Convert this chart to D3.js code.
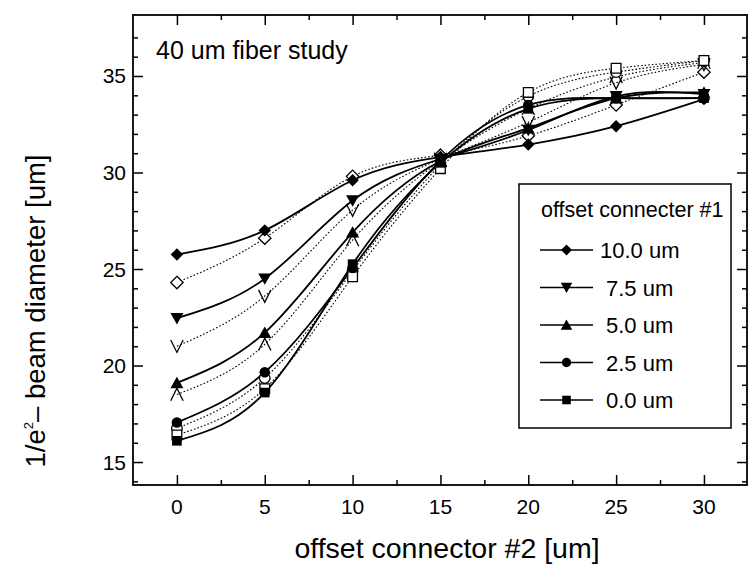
<!DOCTYPE html>
<html>
<head>
<meta charset="utf-8">
<script src="https://cdn.jsdelivr.net/npm/d3@7"></script>
<style>
  html, body { margin: 0; padding: 0; background: #fff; }
  svg { display: block; font-family: "Liberation Sans", Arial, sans-serif; }
</style>
</head>
<body>
<svg id="chart" width="749" height="565"></svg>
<script>
// offset of connector #2 (x positions)
const offsets2 = [0, 5, 10, 15, 20, 25, 30];
// offset of connector #1 (one series each)
const seriesLabels = ["10.0 um", "7.5 um", "5.0 um", "2.5 um", "0.0 um"];
const seriesShapes = ["diamond", "down", "up", "circle", "square"];

// measured beam diameters (filled markers, solid lines)
const meas100 = [25.75, 27.0, 29.6, 30.8, 31.45, 32.4, 33.8];
const meas75  = [22.45, 24.5, 28.55, 30.7, 32.2, 33.95, 34.05];
const meas50  = [19.1, 21.7, 26.9, 30.6, 32.3, 33.85, 34.15];
const meas25  = [17.05, 19.65, 25.05, 30.6, 33.5, 33.85, 33.85];
const meas00  = [16.1, 18.6, 25.25, 30.5, 33.3, 33.85, 33.85];

// calculated beam diameters (open markers, dotted lines)
const calc100 = [24.3, 26.6, 29.8, 30.9, 31.9, 33.5, 35.2];
const calc75  = [21.0, 23.6, 28.05, 30.7, 32.6, 34.65, 35.6];
const calc50  = [18.5, 21.1, 26.5, 30.6, 33.3, 34.95, 35.7];
const calc25  = [16.75, 19.35, 24.9, 30.4, 33.95, 35.2, 35.8];
const calc00  = [16.4, 18.8, 24.6, 30.2, 34.15, 35.4, 35.8];

const xTicks = [0, 5, 10, 15, 20, 25, 30];
const yTicks = [15, 20, 25, 30, 35];

const measured = [meas100, meas75, meas50, meas25, meas00];
const calculated = [calc100, calc75, calc50, calc25, calc00];

const svg = d3.select("#chart");
const L = 133, R = 747, T = 15, B = 485;

const x = d3.scaleLinear().domain([-2.5, 32.45]).range([L, R]);
const y = d3.scaleLinear().domain([13.81, 38.16]).range([B, T]);

// ---- marker paths ----
function markerPath(shape, r, open) {
  switch (shape) {
    case "diamond": return `M0,${-r}L${r},0L0,${r}L${-r},0Z`;
    case "down":
      return open ? `M${-r},${-r}L0,${r}L${r},${-r}`
                  : `M${-r * 1.05},${-r * 0.85}L${r * 1.05},${-r * 0.85}L0,${r}Z`;
    case "up":
      return open ? `M${-r},${r}L0,${-r}L${r},${r}`
                  : `M${-r * 1.05},${r * 0.85}L${r * 1.05},${r * 0.85}L0,${-r}Z`;
    case "circle": {
      const c = r * 0.85;
      return `M${c},0A${c},${c},0,1,1,${-c},0A${c},${c},0,1,1,${c},0Z`;
    }
    case "square": {
      const s = r * 0.78;
      return `M${-s},${-s}H${s}V${s}H${-s}Z`;
    }
  }
}

const line = d3.line()
  .x(d => x(d[0]))
  .y(d => y(d[1]))
  .curve(d3.curveNatural);

const plot = svg.append("g");

// dotted calculated curves
calculated.forEach(vals => {
  plot.append("path")
    .attr("d", line(offsets2.map((o, i) => [o, vals[i]])))
    .attr("fill", "none")
    .attr("stroke", "#000")
    .attr("stroke-width", 1.1)
    .attr("stroke-dasharray", "1.6,2");
});

// solid measured curves
measured.forEach(vals => {
  plot.append("path")
    .attr("d", line(offsets2.map((o, i) => [o, vals[i]])))
    .attr("fill", "none")
    .attr("stroke", "#000")
    .attr("stroke-width", 1.8);
});

// open markers
calculated.forEach((vals, k) => {
  const shape = seriesShapes[k];
  const chevron = shape === "down" || shape === "up";
  plot.selectAll(null).data(offsets2.map((o, i) => [o, vals[i]])).join("path")
    .attr("transform", d => `translate(${x(d[0])},${y(d[1])})`)
    .attr("d", markerPath(shape, 6.2, true))
    .attr("fill", chevron ? "none" : "#fff")
    .attr("stroke", "#000")
    .attr("stroke-width", 1.3);
});

// filled markers
measured.forEach((vals, k) => {
  plot.selectAll(null).data(offsets2.map((o, i) => [o, vals[i]])).join("path")
    .attr("transform", d => `translate(${x(d[0])},${y(d[1])})`)
    .attr("d", markerPath(seriesShapes[k], 6.2, false))
    .attr("fill", "#000")
    .attr("stroke", "none");
});

// ---- axes: frame with inward ticks on all sides ----
const axisG = svg.append("g");
const xMinor = d3.range(-2.5, 32.5, 2.5).filter(v => !xTicks.includes(v) && v > -2.5);
const yMinor = d3.range(14, 38, 1).filter(v => !yTicks.includes(v));

function addAxis(gen, tr, ticks, size) {
  const g = axisG.append("g").attr("transform", tr)
    .call(gen.tickValues(ticks).tickSize(size).tickSizeOuter(0).tickFormat(""));
  g.select(".domain").remove();
  g.selectAll(".tick line").attr("stroke", "#000").attr("stroke-width", 1.5);
  return g;
}

// bottom
addAxis(d3.axisTop(x), `translate(0,${B})`, xTicks, 10);
addAxis(d3.axisTop(x), `translate(0,${B})`, xMinor, 5);
// top
addAxis(d3.axisBottom(x), `translate(0,${T})`, xTicks, 10);
addAxis(d3.axisBottom(x), `translate(0,${T})`, xMinor, 5);
// left
addAxis(d3.axisRight(y), `translate(${L},0)`, yTicks, 10);
addAxis(d3.axisRight(y), `translate(${L},0)`, yMinor, 5);
// right
addAxis(d3.axisLeft(y), `translate(${R},0)`, yTicks, 10);
addAxis(d3.axisLeft(y), `translate(${R},0)`, yMinor, 5);

// tick labels
axisG.selectAll(null).data(xTicks).join("text")
  .attr("x", d => x(d)).attr("y", 514)
  .attr("text-anchor", "middle")
  .attr("font-size", 21)
  .text(d => d);
axisG.selectAll(null).data(yTicks).join("text")
  .attr("x", 126).attr("y", d => y(d) + 7.5)
  .attr("text-anchor", "end")
  .attr("font-size", 21)
  .text(d => d);

// frame
axisG.append("rect")
  .attr("x", L).attr("y", T).attr("width", R - L).attr("height", B - T)
  .attr("fill", "none").attr("stroke", "#000").attr("stroke-width", 1.8);

// axis titles
svg.append("text")
  .attr("x", 447).attr("y", 558)
  .attr("text-anchor", "middle")
  .attr("font-size", 28.5)
  .text("offset connector #2 [um]");

const yTitle = svg.append("text")
  .attr("transform", "translate(45,311) rotate(-90)")
  .attr("text-anchor", "middle")
  .attr("font-size", 27.5);
yTitle.append("tspan").text("1/e");
yTitle.append("tspan").attr("font-size", 13).attr("dy", -12).text("2");
yTitle.append("tspan").attr("dy", 12).text("\u2013 beam diameter [um]");

// in-plot title
svg.append("text")
  .attr("x", 156).attr("y", 59)
  .attr("font-size", 25)
  .text("40 um fiber study");

// ---- legend ----
const lg = svg.append("g");
lg.append("rect")
  .attr("x", 519).attr("y", 184).attr("width", 212).attr("height", 244)
  .attr("fill", "#fff").attr("stroke", "#000").attr("stroke-width", 1.5);
lg.append("text")
  .attr("x", 541).attr("y", 217)
  .attr("font-size", 21.5)
  .text("offset connecter #1");
seriesLabels.forEach((lab, k) => {
  const cy = 250 + k * 37.5;
  lg.append("line")
    .attr("x1", 540).attr("x2", 593).attr("y1", cy).attr("y2", cy)
    .attr("stroke", "#000").attr("stroke-width", 1.6);
  lg.append("path")
    .attr("transform", `translate(566.5,${cy})`)
    .attr("d", markerPath(seriesShapes[k], 5.5, false))
    .attr("fill", "#000");
  lg.append("text")
    .attr("x", lab.startsWith("10") ? 600 : 606).attr("y", cy + 8)
    .attr("font-size", 22)
    .text(lab);
});
</script>
</body>
</html>
